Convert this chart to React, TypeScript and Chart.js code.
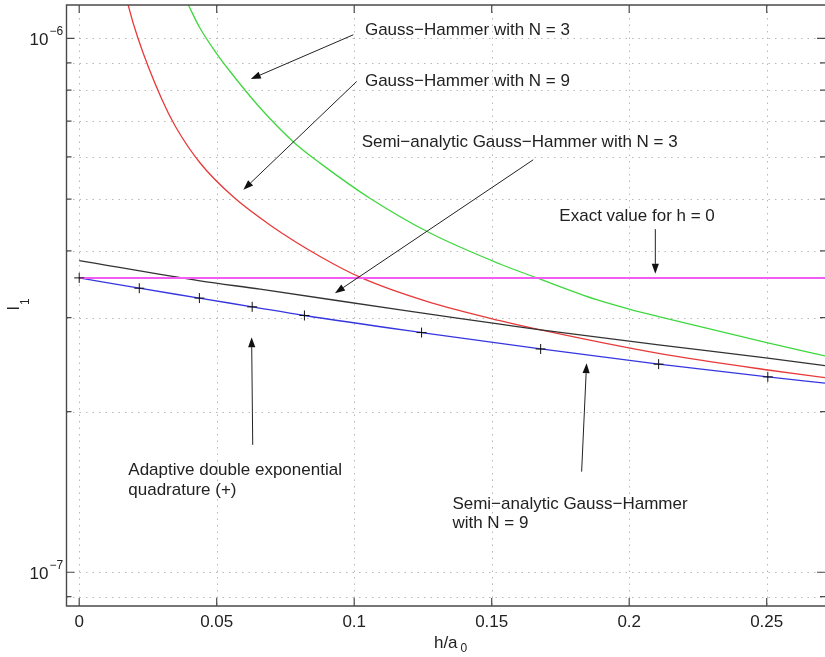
import React, { useEffect, useRef } from 'react';
import { Chart, registerables } from 'chart.js';

Chart.register(...registerables);

// ---------- axes ----------
const xMin = -0.00462;
const xMax = 0.2712;
const yMin = 8.646e-8;
const yMax = 1.1552e-6;
const xTickValues = [0, 0.05, 0.1, 0.15, 0.2, 0.25];
const xTickLabels = ['0', '0.05', '0.1', '0.15', '0.2', '0.25'];
const yMajorValues = [1e-7, 1e-6];
const yMajorExponents = ['\u22127', '\u22126'];
const yMinorValues = [9e-8, 2e-7, 3e-7, 4e-7, 5e-7, 6e-7, 7e-7, 8e-7, 9e-7];

// ---------- series ----------
// Exact value for h = 0
const exactX = [0, 0.2712];
const exactY = [3.56e-7, 3.56e-7];

// Gauss-Hammer with N = 3 (green)
const gh3X = [0.0378, 0.0397, 0.0439, 0.0494, 0.0548, 0.06575, 0.0779, 0.0876, 0.1057, 0.1276, 0.153, 0.1664, 0.1882, 0.2003, 0.2107, 0.2504, 0.2712];
const gh3Y = [1.21e-6, 1.155e-6, 1.046e-6, 9.46e-7, 8.68e-7, 7.415e-7, 6.40e-7, 5.84e-7, 5.02e-7, 4.32e-7, 3.78e-7, 3.56e-7, 3.24e-7, 3.108e-7, 3.013e-7, 2.69e-7, 2.543e-7];

// Gauss-Hammer with N = 9 (red)
const gh9X = [0.016, 0.0178, 0.0214, 0.03, 0.035, 0.0439, 0.056, 0.07, 0.0876, 0.1027, 0.1264, 0.153, 0.1678, 0.2107, 0.2504, 0.2712];
const gh9Y = [1.27e-6, 1.155e-6, 1.0e-6, 7.7e-7, 6.84e-7, 5.85e-7, 5.05e-7, 4.45e-7, 3.905e-7, 3.56e-7, 3.217e-7, 2.96e-7, 2.844e-7, 2.57e-7, 2.393e-7, 2.316e-7];

// Semi-analytic Gauss-Hammer with N = 3 (black)
const semi3X = [0, 0.0439, 0.0658, 0.1168, 0.153, 0.1678, 0.2107, 0.2504, 0.2712];
const semi3Y = [3.837e-7, 3.515e-7, 3.391e-7, 3.1e-7, 2.917e-7, 2.844e-7, 2.667e-7, 2.518e-7, 2.439e-7];

// Semi-analytic Gauss-Hammer with N = 9 (blue)
const semi9X = [0, 0.02185, 0.0437, 0.0629, 0.0819, 0.1245, 0.1678, 0.2107, 0.2504, 0.2712];
const semi9Y = [3.56e-7, 3.405e-7, 3.263e-7, 3.142e-7, 3.027e-7, 2.812e-7, 2.62e-7, 2.454e-7, 2.323e-7, 2.261e-7];

// Adaptive double exponential quadrature (+)
const adeX = [0, 0.02185, 0.0437, 0.0629, 0.0819, 0.1245, 0.1678, 0.2107, 0.2504];
const adeY = [3.56e-7, 3.405e-7, 3.263e-7, 3.142e-7, 3.027e-7, 2.812e-7, 2.62e-7, 2.454e-7, 2.323e-7];

// ---------- annotations (data coords: x, log10(y)) ----------
const noteTexts = [
  'Gauss\u2212Hammer with N = 3',
  'Gauss\u2212Hammer with N = 9',
  'Semi\u2212analytic Gauss\u2212Hammer with N = 3',
  'Exact value for h = 0',
  'Adaptive double exponential',
  'quadrature (+)',
  'Semi\u2212analytic Gauss\u2212Hammer',
  'with N = 9',
];
const noteX = [0.1039, 0.1039, 0.1027, 0.1746, 0.01785, 0.01785, 0.1357, 0.1357];
const noteLogY = [-5.9931, -6.09, -6.2035, -6.3411, -6.8177, -6.8552, -6.8819, -6.9175];

const arrowFromX = [0.0997, 0.1009, 0.1651, 0.2095, 0.0631, 0.1827];
const arrowFromLogY = [-5.9931, -6.0806, -6.2273, -6.3572, -6.7614, -6.8115];
const arrowToX = [0.0624, 0.0597, 0.093, 0.2095, 0.0627, 0.1845];
const arrowToLogY = [-6.0761, -6.2835, -6.4771, -6.441, -6.5596, -6.6083];

const FONT = '"Liberation Sans", Arial, Helvetica, sans-serif';

const pts = (xs: number[], ys: number[]) => xs.map((x, i) => ({ x, y: ys[i] }));

function drawArrow(ctx: CanvasRenderingContext2D, x1: number, y1: number, x2: number, y2: number) {
  const ang = Math.atan2(y2 - y1, x2 - x1);
  const L = 10;
  const W = 3.6;
  const bx = x2 - L * Math.cos(ang);
  const by = y2 - L * Math.sin(ang);
  ctx.beginPath();
  ctx.moveTo(x1, y1);
  ctx.lineTo(bx, by);
  ctx.stroke();
  ctx.beginPath();
  ctx.moveTo(x2, y2);
  ctx.lineTo(bx + W * Math.sin(ang), by - W * Math.cos(ang));
  ctx.lineTo(bx - W * Math.sin(ang), by + W * Math.cos(ang));
  ctx.closePath();
  ctx.fill();
}

const gridPlugin = {
  id: 'matlabGrid',
  beforeDatasetsDraw(chart: any) {
    const { ctx, chartArea: a, scales } = chart;
    const xs = scales.x;
    const ys = scales.y;
    ctx.save();
    ctx.strokeStyle = '#b8b8b8';
    ctx.lineWidth = 1;
    ctx.setLineDash([1.5, 5]);
    for (const v of xTickValues) {
      const px = Math.round(xs.getPixelForValue(v)) + 0.5;
      ctx.beginPath();
      ctx.moveTo(px, a.top);
      ctx.lineTo(px, a.bottom);
      ctx.stroke();
    }
    for (const v of [...yMinorValues, ...yMajorValues]) {
      const py = Math.round(ys.getPixelForValue(v)) + 0.5;
      ctx.beginPath();
      ctx.moveTo(a.left, py);
      ctx.lineTo(a.right, py);
      ctx.stroke();
    }
    ctx.restore();
  },
  afterDatasetsDraw(chart: any) {
    const { ctx, chartArea: a, scales } = chart;
    const xs = scales.x;
    const ys = scales.y;
    ctx.save();
    // axes box (left, top, bottom); right side lies just outside the picture
    ctx.strokeStyle = '#4a4a4a';
    ctx.lineWidth = 1.4;
    ctx.beginPath();
    ctx.moveTo(a.right + 2, a.top);
    ctx.lineTo(a.left, a.top);
    ctx.lineTo(a.left, a.bottom);
    ctx.lineTo(a.right + 2, a.bottom);
    ctx.stroke();
    // ticks (inward)
    ctx.lineWidth = 1.2;
    const major = 8;
    const minor = 5;
    for (const v of xTickValues) {
      const px = xs.getPixelForValue(v);
      ctx.beginPath();
      ctx.moveTo(px, a.bottom);
      ctx.lineTo(px, a.bottom - major);
      ctx.moveTo(px, a.top);
      ctx.lineTo(px, a.top + major);
      ctx.stroke();
    }
    for (const v of yMajorValues) {
      const py = ys.getPixelForValue(v);
      ctx.beginPath();
      ctx.moveTo(a.left, py);
      ctx.lineTo(a.left + major, py);
      ctx.moveTo(a.right, py);
      ctx.lineTo(a.right - major, py);
      ctx.stroke();
    }
    for (const v of yMinorValues) {
      const py = ys.getPixelForValue(v);
      ctx.beginPath();
      ctx.moveTo(a.left, py);
      ctx.lineTo(a.left + minor, py);
      ctx.moveTo(a.right, py);
      ctx.lineTo(a.right - minor, py);
      ctx.stroke();
    }
    // x tick labels
    ctx.fillStyle = '#222';
    ctx.font = `17px ${FONT}`;
    ctx.textAlign = 'center';
    ctx.textBaseline = 'alphabetic';
    xTickValues.forEach((v, i) => {
      ctx.fillText(xTickLabels[i], xs.getPixelForValue(v), a.bottom + 21);
    });
    // y tick labels 10^n
    yMajorValues.forEach((v, i) => {
      const py = ys.getPixelForValue(v);
      ctx.font = `17px ${FONT}`;
      ctx.textAlign = 'right';
      ctx.fillText('10', a.left - 18, py + 6.5);
      ctx.font = `12px ${FONT}`;
      ctx.textAlign = 'left';
      ctx.fillText(yMajorExponents[i], a.left - 17, py - 3.5);
    });
    // x axis title h/a_0
    const cx = (a.left + a.right) / 2 + 5;
    ctx.font = `17px ${FONT}`;
    ctx.textAlign = 'left';
    const w1 = ctx.measureText('h/a').width;
    const startX = cx - (w1 + 10) / 2;
    ctx.fillText('h/a', startX, a.bottom + 42);
    ctx.font = `12px ${FONT}`;
    ctx.fillText('0', startX + w1 + 3, a.bottom + 46);
    // y axis title I_1
    ctx.save();
    ctx.translate(18.5, (a.top + a.bottom) / 2 + 5);
    ctx.rotate(-Math.PI / 2);
    ctx.font = `16px ${FONT}`;
    ctx.textAlign = 'left';
    ctx.fillText('I', 0, 0);
    const wi = ctx.measureText('I').width;
    ctx.font = `12px ${FONT}`;
    ctx.fillText('1', wi + 1, 10);
    ctx.restore();
    // annotations
    ctx.font = `17px ${FONT}`;
    ctx.textAlign = 'left';
    ctx.fillStyle = '#222';
    noteTexts.forEach((t, i) => {
      ctx.fillText(t, xs.getPixelForValue(noteX[i]), ys.getPixelForValue(Math.pow(10, noteLogY[i])));
    });
    ctx.strokeStyle = '#222';
    ctx.fillStyle = '#111';
    ctx.lineWidth = 1;
    arrowFromX.forEach((_, i) => {
      drawArrow(
        ctx,
        xs.getPixelForValue(arrowFromX[i]),
        ys.getPixelForValue(Math.pow(10, arrowFromLogY[i])),
        xs.getPixelForValue(arrowToX[i]),
        ys.getPixelForValue(Math.pow(10, arrowToLogY[i]))
      );
    });
    ctx.restore();
  },
};

export default function App() {
  const ref = useRef<HTMLCanvasElement | null>(null);
  useEffect(() => {
    if (!ref.current) return;
    const lineDs = (label: string, xs: number[], ys: number[], color: string, width = 1.3) => ({
      label,
      data: pts(xs, ys),
      borderColor: color,
      backgroundColor: color,
      borderWidth: width,
      pointRadius: 0,
      cubicInterpolationMode: 'monotone' as const,
      fill: false,
      clip: 0,
    });
    const chart = new Chart(ref.current, {
      type: 'line',
      data: {
        datasets: [
          {
            label: 'Adaptive double exponential quadrature (+)',
            data: pts(adeX, adeY),
            showLine: false,
            pointStyle: 'cross',
            pointRadius: 5,
            pointBorderColor: '#111',
            pointBorderWidth: 1,
            borderColor: '#111',
            backgroundColor: '#111',
            clip: false,
          } as any,
          lineDs('Exact value for h = 0', exactX, exactY, '#f25cf2', 2),
          lineDs('Semi-analytic Gauss-Hammer with N = 9', semi9X, semi9Y, '#3636e0'),
          lineDs('Semi-analytic Gauss-Hammer with N = 3', semi3X, semi3Y, '#333333'),
          lineDs('Gauss-Hammer with N = 9', gh9X, gh9Y, '#e83a3a'),
          lineDs('Gauss-Hammer with N = 3', gh3X, gh3Y, '#3ed83e'),
        ],
      },
      options: {
        responsive: false,
        devicePixelRatio: 1,
        animation: false,
        events: [],
        layout: { autoPadding: false, padding: { left: 66.5, top: 5, right: 0, bottom: 51 } },
        scales: {
          x: { type: 'linear', min: xMin, max: xMax, display: false },
          y: { type: 'logarithmic', min: yMin, max: yMax, display: false },
        },
        plugins: {
          legend: { display: false },
          tooltip: { enabled: false },
        },
      },
      plugins: [gridPlugin],
    });
    return () => chart.destroy();
  }, []);
  return (
    <div style={{ position: 'fixed', left: 0, top: 0, width: 825, height: 657, background: '#fff' }}>
      <canvas ref={ref} width={825} height={657} style={{ display: 'block' }} />
    </div>
  );
}
